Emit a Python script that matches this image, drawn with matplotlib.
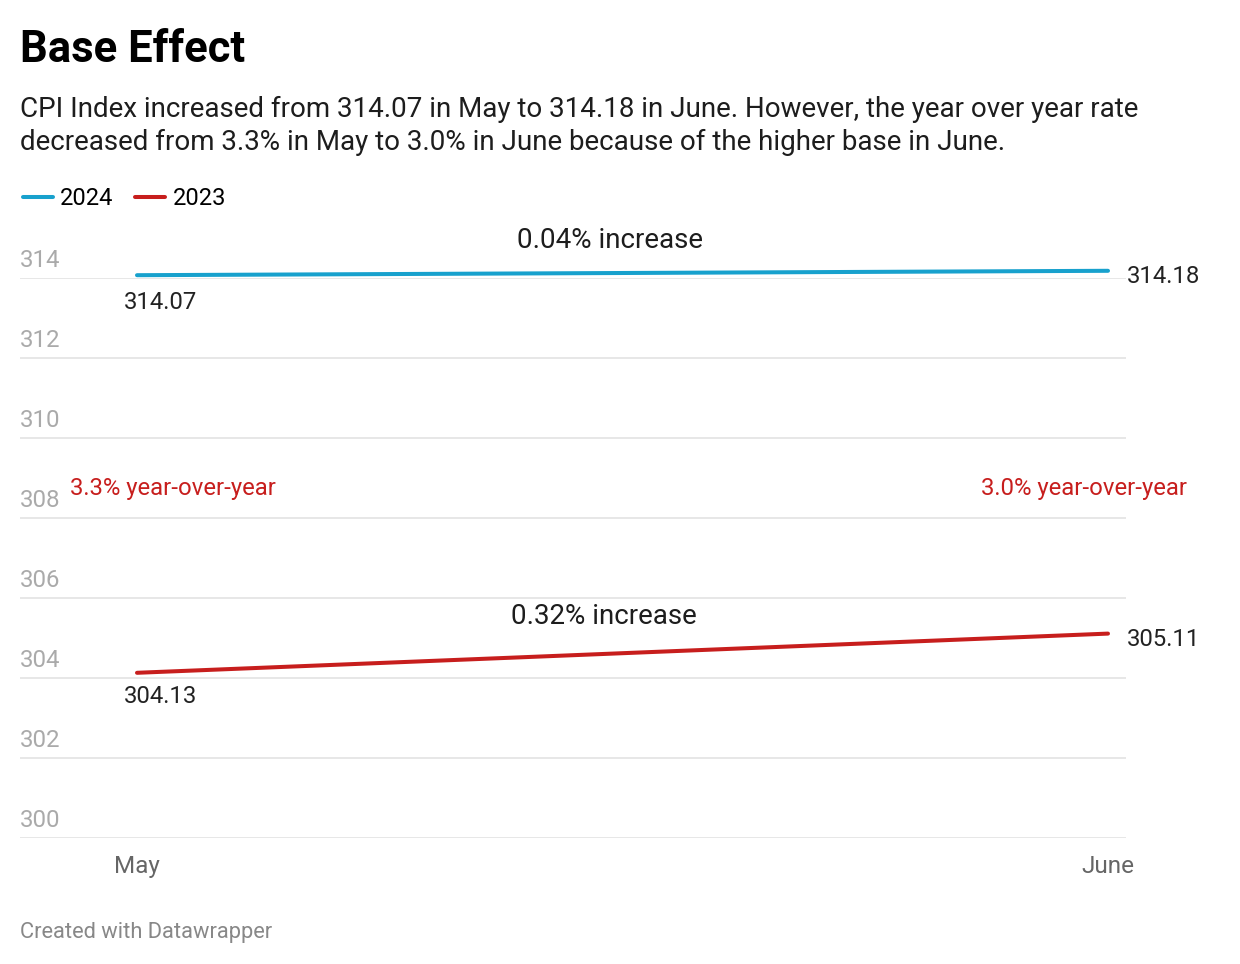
import matplotlib.pyplot as plt
from matplotlib.transforms import offset_copy

plt.rcParams['font.family'] = ['Roboto', 'DejaVu Sans']

# data
months = ['May', 'June']
cpi_2024 = [314.07, 314.18]
cpi_2023 = [304.13, 305.11]
yticks = [300, 302, 304, 306, 308, 310, 312, 314]
blue = '#18a1cd'
red = '#c71e1d'

W, H = 1240, 964
fig = plt.figure(figsize=(W / 100, H / 100), dpi=100)

def fx(px):
    return px / W

def fy(py):
    return 1 - py / H

ax = fig.add_axes([fx(20), fy(838), fx(1126) - fx(20), fy(278) - fy(838)])
x = list(range(len(months)))
ax.plot(x, cpi_2024, color=blue, lw=2.9, solid_capstyle='round', clip_on=False, label='2024', zorder=3)
ax.plot(x, cpi_2023, color=red, lw=2.9, solid_capstyle='round', clip_on=False, label='2023', zorder=3)

ax.set_ylim(300, 314)
ax.set_xlim((20 - 137) / 971, (1126 - 137) / 971)
ax.set_yticks(yticks)
ax.grid(axis='y', color='#e3e3e3', lw=1.2)
ax.set_axisbelow(True)
ax.tick_params(axis='y', length=0, labelleft=False)
for s in ax.spines.values():
    s.set_visible(False)
ax.set_xticks(x)
ax.set_xticklabels(months, fontsize=17.5, color='#666666')
ax.tick_params(axis='x', length=0, pad=12)

# y tick labels above gridlines
tr = ax.get_yaxis_transform()
for t in yticks:
    ax.text(0, t, str(t), transform=offset_copy(tr, fig=fig, x=0, y=6, units='dots'),
            ha='left', va='bottom', fontsize=17.3, color='#aaaaaa')

# value labels
for vals, dy in ((cpi_2024, -27), (cpi_2023, -24)):
    ax.annotate(f'{vals[0]:.2f}', (0, vals[0]), xytext=(-13, dy), textcoords='offset pixels',
                ha='left', va='center', fontsize=17.2, color='#222222', annotation_clip=False)
    ax.annotate(f'{vals[1]:.2f}', (1, vals[1]), xytext=(19, -6), textcoords='offset pixels',
                ha='left', va='center', fontsize=17.2, color='#222222', annotation_clip=False)

# annotations
ax.text(0.487, 314.925, '0.04% increase', ha='center', va='center', fontsize=20, color='#1d1d1d')
ax.text(0.481, 305.525, '0.32% increase', ha='center', va='center', fontsize=20, color='#1d1d1d')
ax.text(-0.069, 308.75, '3.3% year-over-year', ha='left', va='center', fontsize=17.2, color=red)
ax.text(1.0814, 308.75, '3.0% year-over-year', ha='right', va='center', fontsize=17.2, color=red)

# title, subtitle
fig.text(fx(20), fy(62), 'Base Effect', fontsize=31.4, fontweight='bold', color='#000000', va='baseline')
fig.text(fx(20), fy(117), 'CPI Index increased from 314.07 in May to 314.18 in June. However, the year over year rate',
         fontsize=20, color='#1d1d1d', va='baseline')
fig.text(fx(20), fy(150), 'decreased from 3.3% in May to 3.0% in June because of the higher base in June.',
         fontsize=20, color='#1d1d1d', va='baseline')

fig.legend(loc='center left', bbox_to_anchor=(fx(23), fy(199)), ncol=2, frameon=False,
           fontsize=17, handlelength=1.27, handletextpad=0.3, columnspacing=0.93, borderaxespad=0,
           borderpad=0)

fig.text(fx(20), fy(938), 'Created with Datawrapper', fontsize=15.75, color='#888888', va='baseline')

fig.savefig('out.png', dpi=100, facecolor='white')
